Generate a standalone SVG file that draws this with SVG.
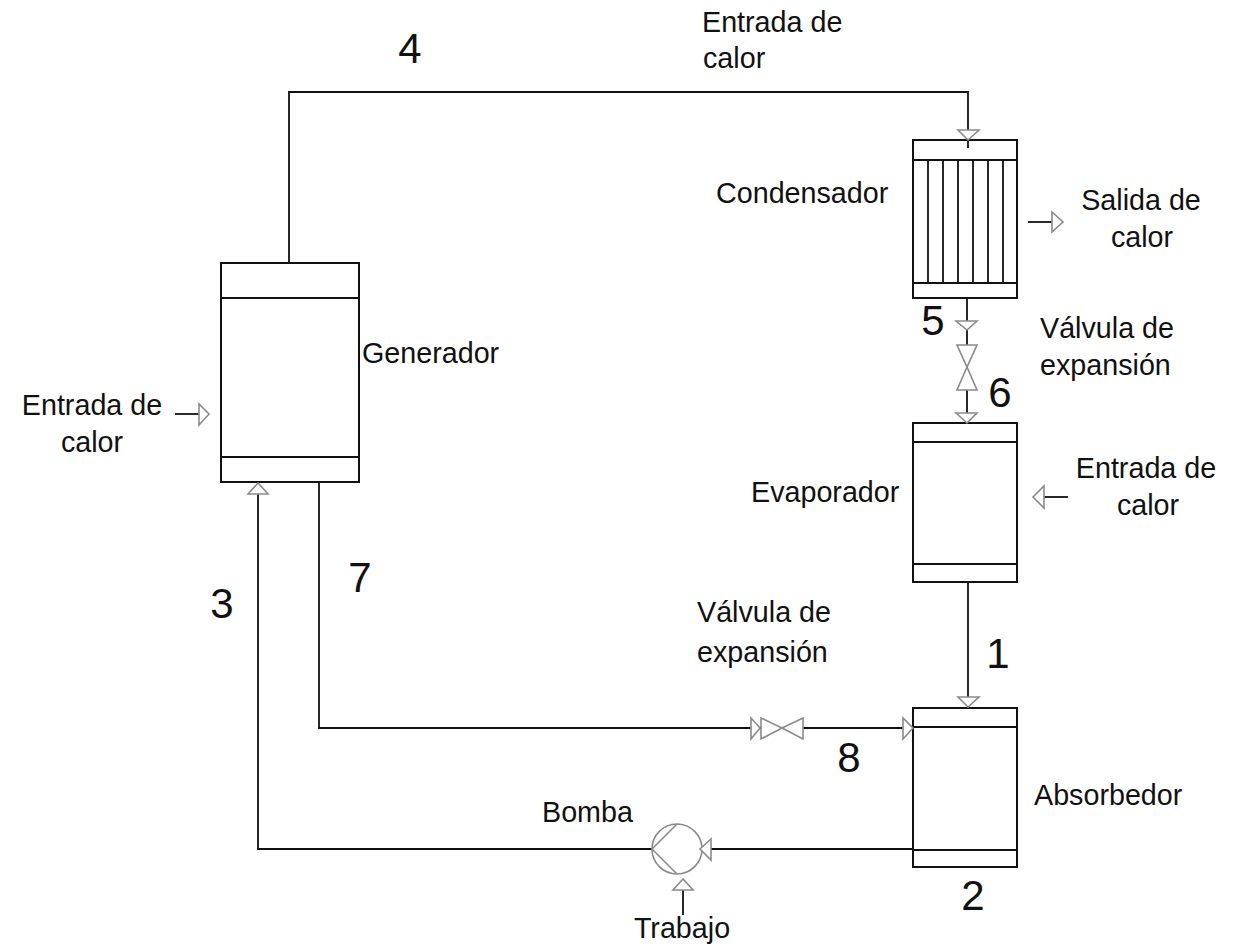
<svg xmlns="http://www.w3.org/2000/svg" width="1236" height="952" viewBox="0 0 1236 952">
<style>
.box{fill:#fff;stroke:#111;stroke-width:2}
.ln{fill:none;stroke:#111;stroke-width:1.8}
.arr{fill:#fff;stroke:#8a8a8a;stroke-width:1.6;stroke-linejoin:miter}
.sym{fill:none;stroke:#8a8a8a;stroke-width:1.6}
text{font-family:"Liberation Sans",Arial,sans-serif;fill:#111}
.lbl{font-size:28.7px}
.num{font-size:42px}
</style>
<rect width="1236" height="952" fill="#fff"/>
<g id="connectors">
<polyline class="ln" points="289,263 289,92 968,92 968,148"/>
<line class="ln" x1="967" y1="298" x2="967" y2="423"/>
<line class="ln" x1="968" y1="582" x2="968" y2="708"/>
<polyline class="ln" points="319,482 319,728 913,728"/>
<line class="ln" x1="913" y1="849" x2="700" y2="849"/>
<polyline class="ln" points="652,849 258,849 258,483"/>
<line class="ln" x1="683" y1="890" x2="683" y2="915"/>
<line class="ln" x1="175" y1="414" x2="199" y2="414"/>
<line class="ln" x1="1028" y1="222" x2="1052" y2="222"/>
<line class="ln" x1="1044" y1="497" x2="1068" y2="497"/>
</g>
<g id="generador">
<rect class="box" x="221" y="263" width="138" height="219"/>
<line class="ln" x1="221" y1="298" x2="359" y2="298"/>
<line class="ln" x1="221" y1="457" x2="359" y2="457"/>
</g>
<g id="condensador">
<rect class="box" x="913" y="140" width="104" height="158"/>
<line class="ln" x1="913" y1="160" x2="1017" y2="160"/>
<line class="ln" x1="913" y1="283" x2="1017" y2="283"/>
<g class="ln">
<line x1="928" y1="160" x2="928" y2="283"/>
<line x1="943" y1="160" x2="943" y2="283"/>
<line x1="958" y1="160" x2="958" y2="283"/>
<line x1="973" y1="160" x2="973" y2="283"/>
<line x1="988" y1="160" x2="988" y2="283"/>
<line x1="1003" y1="160" x2="1003" y2="283"/>
</g>
<line class="ln" x1="968" y1="140" x2="968" y2="148"/>
</g>
<g id="evaporador">
<rect class="box" x="913" y="423" width="104" height="159"/>
<line class="ln" x1="913" y1="442" x2="1017" y2="442"/>
<line class="ln" x1="913" y1="564" x2="1017" y2="564"/>
</g>
<g id="absorbedor">
<rect class="box" x="913" y="708" width="104" height="159"/>
<line class="ln" x1="913" y1="727" x2="1017" y2="727"/>
<line class="ln" x1="913" y1="850" x2="1017" y2="850"/>
</g>
<g id="valvula1">
<path class="arr" d="M957,345 L977,345 L967,367 Z"/>
<path class="arr" d="M967,367 L957,390 L977,390 Z"/>
</g>
<g id="valvula2">
<path class="arr" d="M761,718 L761,739 L782,728 Z"/>
<path class="arr" d="M782,728 L803,718 L803,739 Z"/>
</g>
<g id="bomba">
<circle class="sym" cx="677" cy="849" r="25" fill="#fff"/>
<line class="sym" x1="652" y1="849" x2="677" y2="824"/>
<line class="sym" x1="652" y1="849" x2="677" y2="874"/>
</g>
<g id="arrows">
<path class="arr" d="M958,130 L979,130 L968,140 Z"/>
<path class="arr" d="M956,321 L977,321 L967,330 Z"/>
<path class="arr" d="M956,413 L977,413 L967,423 Z"/>
<path class="arr" d="M958,697 L979,697 L968,707 Z"/>
<path class="arr" d="M751,718 L751,739 L760,728 Z"/>
<path class="arr" d="M903,718 L903,739 L913,728 Z"/>
<path class="arr" d="M700,849 L711,839 L711,860 Z"/>
<path class="arr" d="M683,879 L673,890 L693,890 Z"/>
<path class="arr" d="M258,483 L248,494 L268,494 Z"/>
<path class="arr" d="M199,404 L199,425 L209,414 Z"/>
<path class="arr" d="M1052,212 L1052,232 L1063,222 Z"/>
<path class="arr" d="M1033,497 L1044,486 L1044,508 Z"/>
</g>
<g id="labels">
<text class="lbl" x="702" y="32">Entrada de</text>
<text class="lbl" x="703" y="68">calor</text>
<text class="lbl" x="716" y="203">Condensador</text>
<text class="lbl" x="1141" y="210" text-anchor="middle">Salida de</text>
<text class="lbl" x="1142" y="247" text-anchor="middle">calor</text>
<text class="lbl" x="1040" y="338">Válvula de</text>
<text class="lbl" x="1040" y="375">expansión</text>
<text class="lbl" x="362" y="363">Generador</text>
<text class="lbl" x="92" y="415" text-anchor="middle">Entrada de</text>
<text class="lbl" x="92" y="452" text-anchor="middle">calor</text>
<text class="lbl" x="751" y="502">Evaporador</text>
<text class="lbl" x="1146" y="478" text-anchor="middle">Entrada de</text>
<text class="lbl" x="1148" y="515" text-anchor="middle">calor</text>
<text class="lbl" x="697" y="622">Válvula de</text>
<text class="lbl" x="697" y="662">expansión</text>
<text class="lbl" x="1034" y="805">Absorbedor</text>
<text class="lbl" x="542" y="822">Bomba</text>
<text class="lbl" x="682" y="938" text-anchor="middle">Trabajo</text>
</g>
<g id="numbers">
<text class="num" x="410" y="63" text-anchor="middle">4</text>
<text class="num" x="933" y="335" text-anchor="middle">5</text>
<text class="num" x="1000" y="407" text-anchor="middle">6</text>
<text class="num" x="222" y="618" text-anchor="middle">3</text>
<text class="num" x="360" y="592" text-anchor="middle">7</text>
<text class="num" x="998" y="668" text-anchor="middle">1</text>
<text class="num" x="849" y="772" text-anchor="middle">8</text>
<text class="num" x="973" y="910" text-anchor="middle">2</text>
</g>
</svg>
